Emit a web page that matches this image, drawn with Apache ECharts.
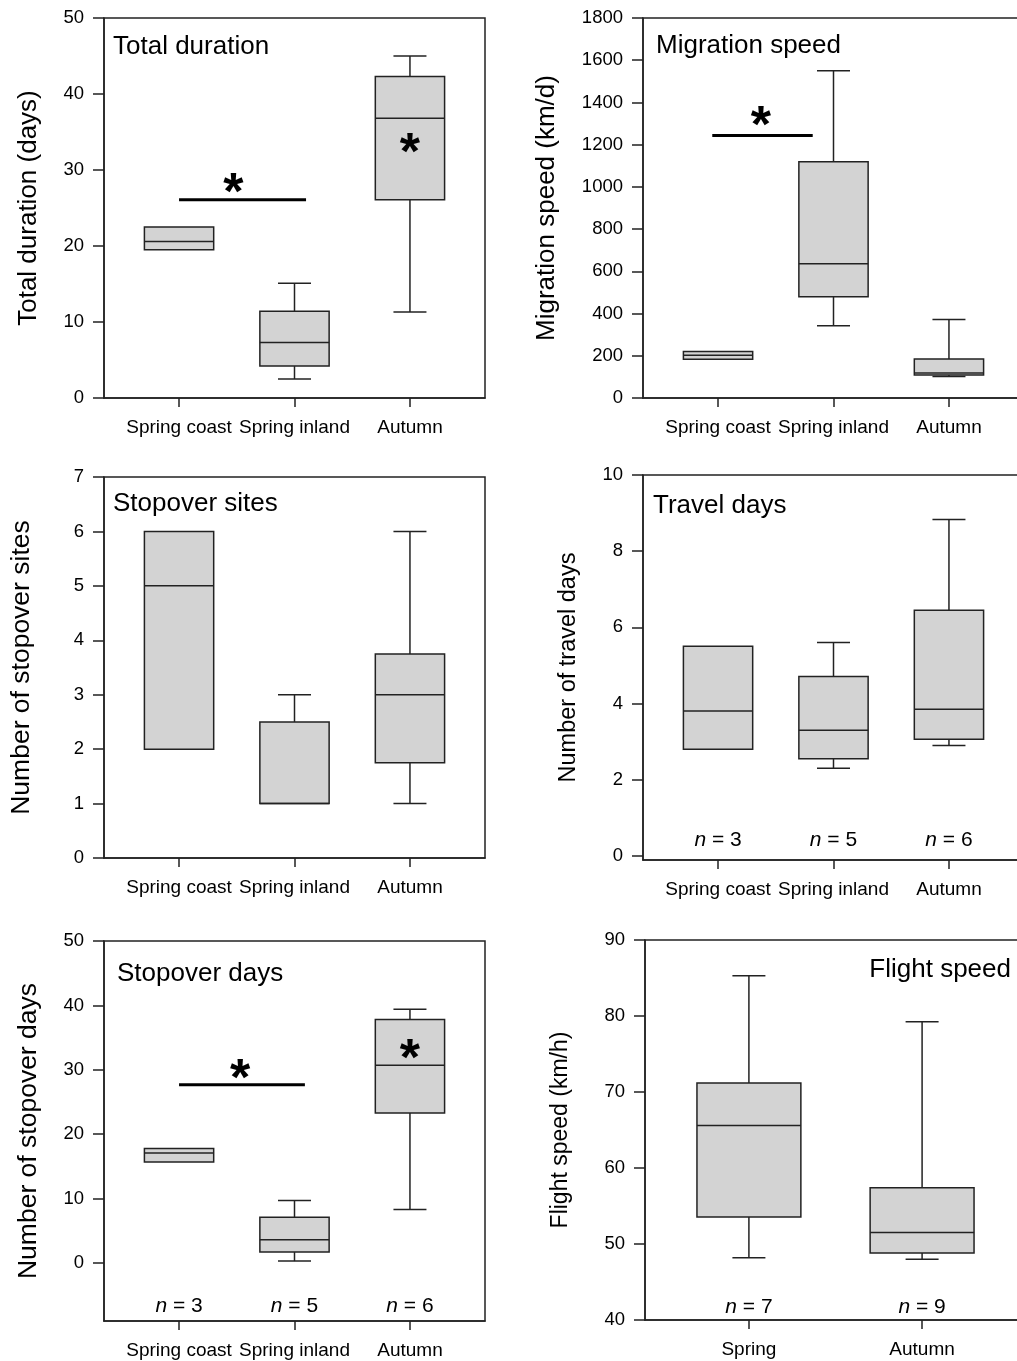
<!DOCTYPE html>
<html>
<head>
<meta charset="utf-8">
<script src="https://cdn.jsdelivr.net/npm/echarts@6/dist/echarts.min.js"></script>
<style>
html,body{margin:0;padding:0;background:#fff;}
#chart{width:1017px;height:1361px;}
</style>
</head>
<body>
<div id="chart"></div>
<script>
// ---------- data ----------
const catsThree = ['Spring coast', 'Spring inland', 'Autumn'];
const catsTwo = ['Spring', 'Autumn'];
// each box: [lower whisker, Q1, median, Q3, upper whisker]
const totalDuration = [[19.5, 19.5, 20.6, 22.5, 22.5], [2.5, 4.2, 7.3, 11.4, 15.1], [11.3, 26.1, 36.8, 42.3, 45.0]];
const migrationSpeed = [[183, 183, 202, 220, 220], [342, 480, 636, 1119, 1550], [102, 109, 118, 185, 372]];
const stopoverSites = [[2, 2, 5, 6, 6], [1, 1, 1, 2.5, 3], [1, 1.75, 3, 3.75, 6]];
const travelDays = [[2.8, 2.8, 3.8, 5.5, 5.5], [2.3, 2.55, 3.3, 4.71, 5.6], [2.9, 3.06, 3.85, 6.45, 8.83]];
const stopoverDays = [[15.7, 15.7, 17.1, 17.8, 17.8], [0.3, 1.7, 3.6, 7.1, 9.7], [8.3, 23.3, 30.7, 37.8, 39.4]];
const flightSpeed = [[48.2, 53.55, 65.6, 71.2, 85.3], [48.0, 48.8, 51.5, 57.4, 79.25]];
const sampleSizesThree = [3, 5, 6];
const sampleSizesTwo = [7, 9];
// significance bars [from, to, level] and asterisks [x, y]
const sigTotal = [1.0, 2.1, 26.1];
const starsTotal = [[1.47, 28.2], [3.0, 33.5]];
const sigMigration = [0.95, 1.82, 1244];
const starsMigration = [[1.37, 1331]];
const sigStopDays = [1.0, 2.09, 27.7];
const starsStopDays = [[1.53, 30.1], [3.0, 33.2]];
// y value at which the n-labels sit
const nLevelTravel = 0.4, nLevelStopDays = -6.7, nLevelFlight = 41.7;
// y-axis tick labels
const ticksTotal = [0, 10, 20, 30, 40, 50];
const ticksMigration = [0, 200, 400, 600, 800, 1000, 1200, 1400, 1600, 1800];
const ticksSites = [0, 1, 2, 3, 4, 5, 6, 7];
const ticksTravel = [0, 2, 4, 6, 8, 10];
const ticksStopDays = [0, 10, 20, 30, 40, 50];
const ticksFlight = [40, 50, 60, 70, 80, 90];

// ---------- styling ----------
const FONT = '"Liberation Sans", Arial, Helvetica, sans-serif';
const LINE = '#222';
const LW = 1.5;

const grids = [
  {left: 104, top: 18, width: 381, height: 380},
  {left: 643, top: 18, width: 381, height: 380},
  {left: 104, top: 477, width: 381, height: 381},
  {left: 643, top: 475, width: 381, height: 385},
  {left: 104, top: 941, width: 381, height: 380},
  {left: 645, top: 940, width: 381, height: 380}
].map(g => Object.assign(g, {show: true, borderColor: LINE, borderWidth: LW, backgroundColor: 'transparent', containLabel: false, outerBoundsMode: 'none'}));

function xAx(gi, cats, min, max) {
  const vals = cats.map((c, i) => i + 1);
  return {
    type: 'value', gridIndex: gi, min: min, max: max, position: 'bottom',
    axisLine: {show: true, onZero: false, lineStyle: {color: LINE, width: LW}},
    axisTick: {show: true, inside: false, length: 9, customValues: vals, lineStyle: {color: LINE, width: LW}},
    axisLabel: {show: true, customValues: vals, formatter: v => cats[Math.round(v) - 1], margin: 20, fontSize: 19, color: '#000', fontFamily: FONT},
    splitLine: {show: false}
  };
}
function yAx(gi, ticks, min, max, name, nameSize, nameGap) {
  return {
    type: 'value', gridIndex: gi, min: min, max: max, position: 'left',
    name: name, nameLocation: 'middle', nameGap: nameGap,
    nameTextStyle: {fontSize: nameSize, color: '#000', fontFamily: FONT},
    axisLine: {show: true, onZero: false, lineStyle: {color: LINE, width: LW}},
    axisTick: {show: true, inside: false, length: 11, customValues: ticks, lineStyle: {color: LINE, width: LW}},
    axisLabel: {show: true, customValues: ticks, formatter: v => String(v), margin: 20, fontSize: 18.5, color: '#000', fontFamily: FONT},
    splitLine: {show: false}
  };
}

const xAxes = [
  xAx(0, catsThree, 0.35, 3.65), xAx(1, catsThree, 0.35, 3.65), xAx(2, catsThree, 0.35, 3.65),
  xAx(3, catsThree, 0.35, 3.65), xAx(4, catsThree, 0.35, 3.65), xAx(5, catsTwo, 0.4, 2.6)
];
const yAxes = [
  yAx(0, ticksTotal, 0, 50, 'Total duration (days)', 26, 62),
  yAx(1, ticksMigration, 0, 1800, 'Migration speed (km/d)', 26, 83),
  yAx(2, ticksSites, 0, 7, 'Number of stopover sites', 26.5, 69),
  yAx(3, ticksTravel, -0.11, 10, 'Number of travel days', 23.5, 62),
  yAx(4, ticksStopDays, -9, 50, 'Number of stopover days', 26.5, 62),
  yAx(5, ticksFlight, 40, 90, 'Flight speed (km/h)', 23, 73)
];

function boxRender(params, api) {
  const x = api.value(0);
  const lo = api.value(1), q1 = api.value(2), md = api.value(3), q3 = api.value(4), hi = api.value(5);
  const bw = api.size([0.6, 0])[0];
  const cap = 33;
  const plo = api.coord([x, lo]), pq1 = api.coord([x, q1]), pmd = api.coord([x, md]), pq3 = api.coord([x, q3]), phi = api.coord([x, hi]);
  const ls = {stroke: LINE, lineWidth: LW};
  const ch = [];
  if (hi > q3) {
    ch.push({type: 'line', shape: {x1: phi[0], y1: phi[1], x2: pq3[0], y2: pq3[1]}, style: ls});
    ch.push({type: 'line', shape: {x1: phi[0] - cap / 2, y1: phi[1], x2: phi[0] + cap / 2, y2: phi[1]}, style: ls});
  }
  if (lo < q1) {
    ch.push({type: 'line', shape: {x1: plo[0], y1: plo[1], x2: pq1[0], y2: pq1[1]}, style: ls});
    ch.push({type: 'line', shape: {x1: plo[0] - cap / 2, y1: plo[1], x2: plo[0] + cap / 2, y2: plo[1]}, style: ls});
  }
  ch.push({type: 'rect', shape: {x: pq3[0] - bw / 2, y: pq3[1], width: bw, height: pq1[1] - pq3[1]}, style: {fill: '#d3d3d3', stroke: LINE, lineWidth: LW}});
  ch.push({type: 'line', shape: {x1: pmd[0] - bw / 2, y1: pmd[1], x2: pmd[0] + bw / 2, y2: pmd[1]}, style: ls});
  return {type: 'group', children: ch};
}
function boxSeries(gi, arr) {
  return {type: 'custom', xAxisIndex: gi, yAxisIndex: gi, renderItem: boxRender, data: arr.map((d, i) => [i + 1].concat(d)), silent: true, z: 2};
}
function sigSeries(gi, bar) {
  return {type: 'custom', xAxisIndex: gi, yAxisIndex: gi, silent: true, z: 3, data: [bar],
    renderItem: (p, api) => {
      const a = api.coord([api.value(0), api.value(2)]);
      const b = api.coord([api.value(1), api.value(2)]);
      return {type: 'line', shape: {x1: a[0], y1: a[1], x2: b[0], y2: b[1]}, style: {stroke: '#000', lineWidth: 3}};
    }};
}
function starSeries(gi, stars) {
  return {type: 'custom', xAxisIndex: gi, yAxisIndex: gi, silent: true, z: 4, data: stars,
    renderItem: (p, api) => {
      const c = api.coord([api.value(0), api.value(1)]);
      return {type: 'text', x: c[0], y: c[1] + 11, style: {text: '*', fontSize: 52, fontWeight: 'bold', fontFamily: FONT, fill: '#000', align: 'center', verticalAlign: 'middle'}};
    }};
}
function nSeries(gi, sizes, level) {
  return {type: 'custom', xAxisIndex: gi, yAxisIndex: gi, silent: true, z: 4, data: sizes.map((n, i) => [i + 1, level, n]),
    renderItem: (p, api) => {
      const c = api.coord([api.value(0), api.value(1)]);
      return {type: 'text', x: c[0], y: c[1], style: {text: '{i|n} = ' + api.value(2), fontSize: 21, fontFamily: FONT, fill: '#000', align: 'center', verticalAlign: 'middle',
        rich: {i: {fontStyle: 'italic', fontSize: 21, fontFamily: FONT, fill: '#000'}}}};
    }};
}

const titleStyle = {fontSize: 26, fontWeight: 'normal', color: '#000', fontFamily: FONT};
const titles = [
  {text: 'Total duration', left: 113, top: 34},
  {text: 'Migration speed', left: 656, top: 33},
  {text: 'Stopover sites', left: 113, top: 491},
  {text: 'Travel days', left: 653, top: 493},
  {text: 'Stopover days', left: 117, top: 961},
  {text: 'Flight speed', right: 6, top: 957}
].map(t => Object.assign(t, {textStyle: titleStyle, padding: 0}));

const chart = echarts.init(document.getElementById('chart'), null, {renderer: 'canvas'});
chart.setOption({
  backgroundColor: '#fff',
  animation: false,
  title: titles,
  grid: grids,
  xAxis: xAxes,
  yAxis: yAxes,
  series: [
    boxSeries(0, totalDuration), sigSeries(0, sigTotal), starSeries(0, starsTotal),
    boxSeries(1, migrationSpeed), sigSeries(1, sigMigration), starSeries(1, starsMigration),
    boxSeries(2, stopoverSites),
    boxSeries(3, travelDays), nSeries(3, sampleSizesThree, nLevelTravel),
    boxSeries(4, stopoverDays), sigSeries(4, sigStopDays), starSeries(4, starsStopDays), nSeries(4, sampleSizesThree, nLevelStopDays),
    boxSeries(5, flightSpeed), nSeries(5, sampleSizesTwo, nLevelFlight)
  ]
});
</script>
</body>
</html>
